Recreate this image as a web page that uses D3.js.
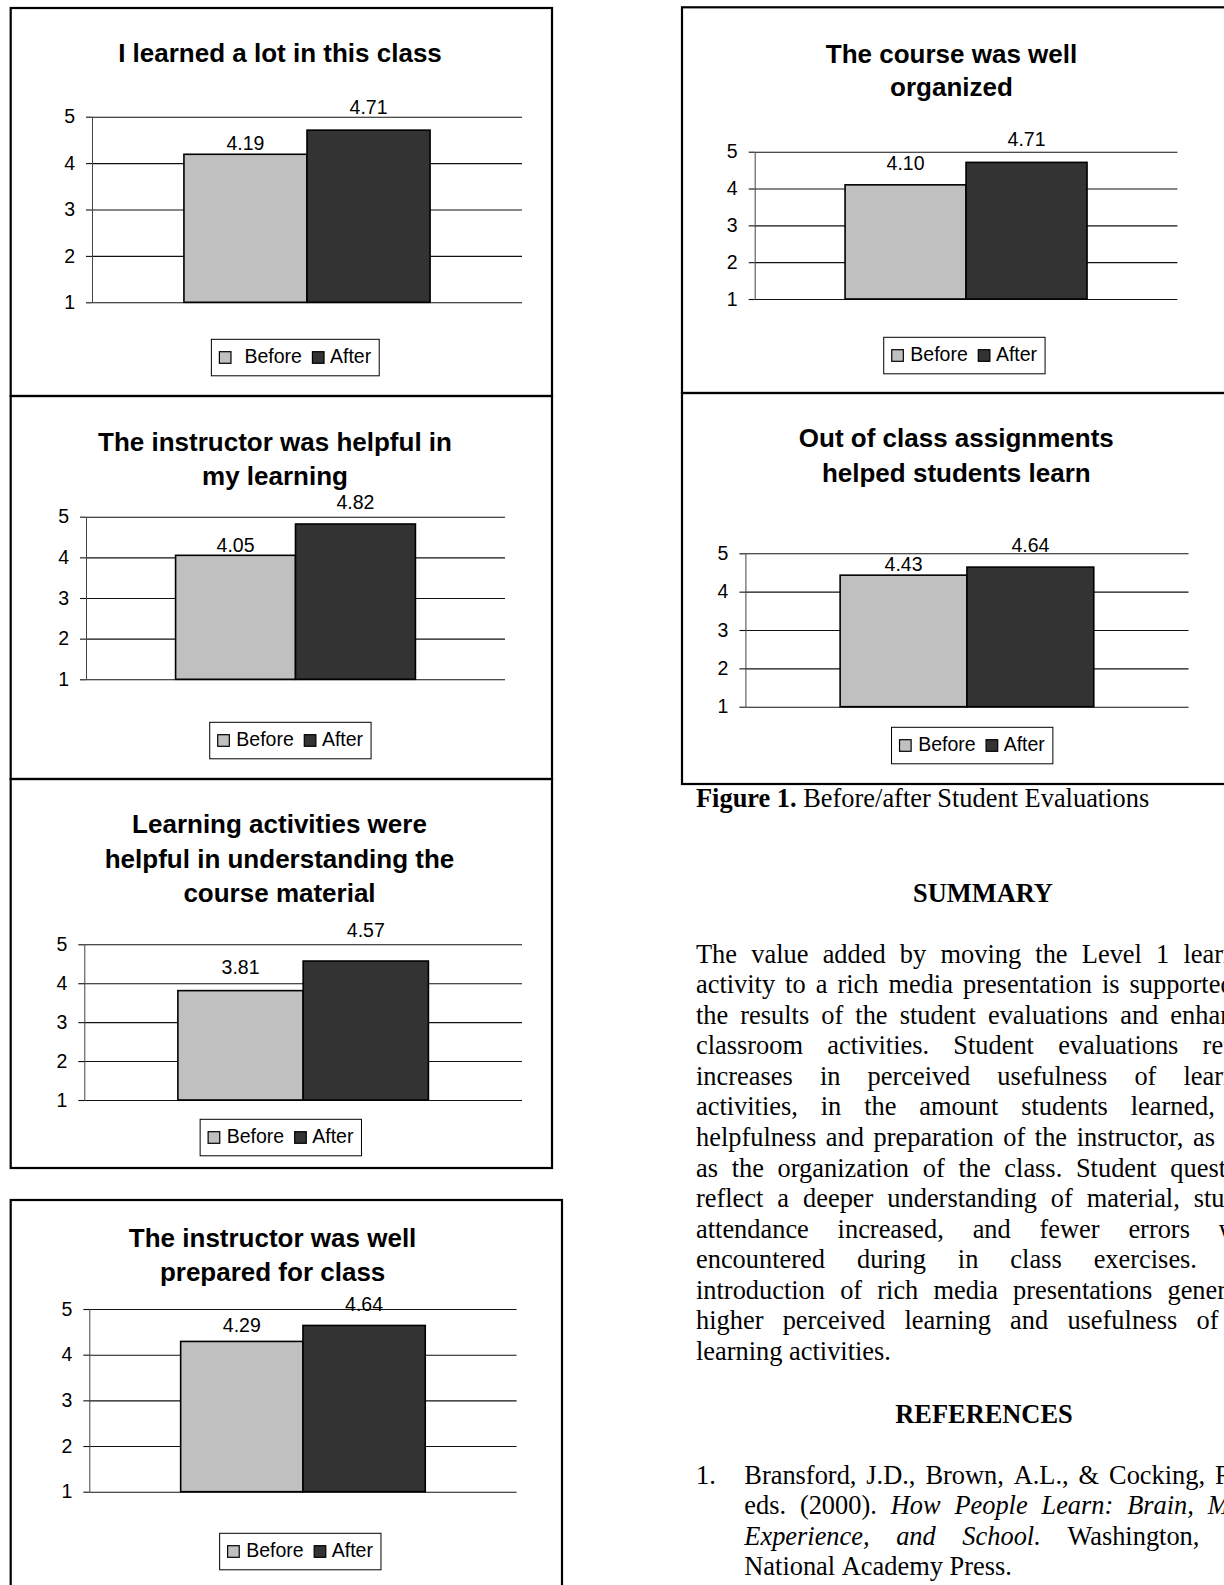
<!DOCTYPE html>
<html>
<head>
<meta charset="utf-8">
<script src="https://cdn.jsdelivr.net/npm/d3@7"></script>
<style>
  html, body { margin: 0; padding: 0; background: #fff; }
  svg { display: block; }
</style>
</head>
<body>
<svg id="page" width="1224" height="1585"></svg>
<script>
// ---- Data: mean evaluation ratings (1–5) before and after the rich media change ----
const series = ["Before", "After"];
const titleLines = [
  ["I learned a lot in this class"],
  ["The instructor was helpful in", "my learning"],
  ["Learning activities were", "helpful in understanding the", "course material"],
  ["The instructor was well", "prepared for class"],
  ["The course was well", "organized"],
  ["Out of class assignments", "helped students learn"]
];
const beforeValues = [4.19, 4.05, 3.81, 4.29, 4.10, 4.43];
const afterValues  = [4.71, 4.82, 4.57, 4.64, 4.71, 4.64];
const ratingTicks  = [1, 2, 3, 4, 5];
const ratingDomain = [1, 5];

// ---- Text blocks ----
const captionBold = "Figure 1.";
const captionText = " Before/after Student Evaluations";
const summaryHeading = "SUMMARY";
const summaryLines = [
  "The value added by moving the Level 1 learning",
  "activity to a rich media presentation is supported by",
  "the results of the student evaluations and enhanced",
  "classroom activities. Student evaluations reflect",
  "increases in perceived usefulness of learning",
  "activities, in the amount students learned, the",
  "helpfulness and preparation of the instructor, as well",
  "as the organization of the class. Student questions",
  "reflect a deeper understanding of material, student",
  "attendance increased, and fewer errors were",
  "encountered during in class exercises. The",
  "introduction of rich media presentations generated",
  "higher perceived learning and usefulness of the",
  "learning activities."
];
const referencesHeading = "REFERENCES";
const referenceNumber = "1.";
const referenceLines = [
  [["Bransford, J.D., Brown, A.L., & Cocking, R.R.,", false]],
  [["eds. (2000).", false], ["How People Learn: Brain, Mind,", true]],
  [["Experience, and School.", true], ["Washington, DC:", false]],
  [["National Academy Press.", false]]
];

// ---- Layout of the six chart frames (page pixels) ----
const panelLayout = [
  { box: [10.7, 8, 552, 396],    titleX: 280,   titleY: [61.7],               plot: [92, 522, 116.7, 302.3],    lift: [4, 16],  legend: [295.3, 339.3, 13.5] },
  { box: [10.7, 396, 552, 779],  titleX: 275,   titleY: [451, 485],           plot: [86, 505, 516.7, 679.3],    lift: [3, 15],  legend: [290.4, 722.3, 7] },
  { box: [10.7, 779, 552, 1168], titleX: 279.5, titleY: [833.3, 868.3, 902.3], plot: [84.3, 522, 944.3, 1100],   lift: [17, 24], legend: [280.8, 1119.3, 7] },
  { box: [10.7, 1200, 562, 1620],titleX: 272.6, titleY: [1246.7, 1281],       plot: [89.3, 516.6, 1309, 1491.7], lift: [9, 14],  legend: [300.3, 1533.3, 7] },
  { box: [682, 7.3, 1250, 393],  titleX: 951.5, titleY: [62.7, 96],           plot: [754.7, 1177.4, 151.7, 299], lift: [15, 16], legend: [964.4, 337.3, 7] },
  { box: [682, 393, 1250, 784],  titleX: 956.3, titleY: [446.7, 482.3],       plot: [745.4, 1188.5, 553.3, 706.7], lift: [4, 15], legend: [972.2, 727.3, 7] }
];

const SANS = "'Liberation Sans', Arial, Helvetica, sans-serif";
const SERIF = "'Liberation Serif', 'Times New Roman', Times, serif";
const colors = { Before: "#c0c0c0", After: "#333333" };
const fmt = d3.format(".2f");

const svg = d3.select("#page");
svg.append("rect").attr("width", 1224).attr("height", 1585).attr("fill", "#fff");

// Hidden text node used for measuring word widths
const probe = svg.append("text").attr("x", -9999).attr("y", -9999);
function textWidth(str, family, size, weight, style) {
  probe.attr("font-family", family).attr("font-size", size)
       .attr("font-weight", weight || "normal").attr("font-style", style || "normal")
       .text(str);
  return probe.node().getComputedTextLength();
}

// ---- Charts ----
panelLayout.forEach((p, i) => {
  const g = svg.append("g").attr("class", "panel");
  const [bx0, by0, bx1, by1] = p.box;
  g.append("rect")
    .attr("x", bx0).attr("y", by0).attr("width", bx1 - bx0).attr("height", by1 - by0)
    .attr("fill", "none").attr("stroke", "#000").attr("stroke-width", 2.2);

  // Title
  g.append("g").selectAll("text").data(titleLines[i]).join("text")
    .attr("x", p.titleX).attr("y", (d, k) => p.titleY[k])
    .attr("text-anchor", "middle")
    .attr("font-family", SANS).attr("font-size", 26).attr("font-weight", "bold")
    .attr("fill", "#000").text(d => d);

  const [x0, x1, yTop, yBot] = p.plot;
  const y = d3.scaleLinear().domain(ratingDomain).range([yBot, yTop]);
  const x = d3.scaleBand().domain(series).range([x0, x1]).paddingInner(0).paddingOuter(0.747);

  // Horizontal gridlines
  const grid = g.append("g").attr("transform", `translate(${x0},0)`)
    .call(d3.axisLeft(y).tickValues(ratingTicks).tickSize(-(x1 - x0)).tickFormat(""));
  grid.select(".domain").remove();
  grid.selectAll("line").attr("stroke", "#111").attr("stroke-width", 1.1);

  // Value axis
  const axis = g.append("g").attr("transform", `translate(${x0},0)`)
    .call(d3.axisLeft(y).tickValues(ratingTicks).tickSize(6).tickSizeOuter(0).tickPadding(11).tickFormat(d3.format("d")));
  axis.attr("font-family", SANS).attr("font-size", 19.5);
  axis.select(".domain").attr("stroke", "#444").attr("stroke-width", 1);
  axis.selectAll(".tick line").attr("stroke", "#111").attr("stroke-width", 1.1);
  axis.selectAll(".tick text").attr("fill", "#000");

  // Bars
  const vals = [beforeValues[i], afterValues[i]];
  const rows = series.map((s, k) => ({ s, v: vals[k], lift: p.lift[k] }));
  g.append("g").selectAll("rect").data(rows).join("rect")
    .attr("x", d => x(d.s)).attr("y", d => y(d.v))
    .attr("width", x.bandwidth()).attr("height", d => y(ratingDomain[0]) - y(d.v))
    .attr("fill", d => colors[d.s]).attr("stroke", "#000").attr("stroke-width", 1.6);

  // Value labels
  g.append("g").selectAll("text").data(rows).join("text")
    .attr("x", d => x(d.s) + x.bandwidth() / 2)
    .attr("y", d => y(d.v) - d.lift)
    .attr("text-anchor", "middle")
    .attr("font-family", SANS).attr("font-size", 19.5).attr("fill", "#000")
    .text(d => fmt(d.v));

  // Legend
  const [lcx, ltop, firstGap] = p.legend;
  const fs = 19.5, sw = 11.6;
  const wB = textWidth(series[0], SANS, fs), wA = textWidth(series[1], SANS, fs);
  const contentW = sw + firstGap + wB + 10.5 + sw + 6 + wA;
  const lw = contentW + 16, lh = 36.5;
  const lx = lcx - lw / 2;
  const lg = g.append("g");
  lg.append("rect").attr("x", lx).attr("y", ltop).attr("width", lw).attr("height", lh)
    .attr("fill", "#fff").attr("stroke", "#000").attr("stroke-width", 1);
  const entries = [
    { s: series[0], sx: lx + 8, tx: lx + 8 + sw + firstGap },
    { s: series[1], sx: lx + 8 + sw + firstGap + wB + 10.5, tx: lx + 8 + sw + firstGap + wB + 10.5 + sw + 6 }
  ];
  lg.selectAll("rect.sw").data(entries).join("rect").attr("class", "sw")
    .attr("x", d => d.sx).attr("y", ltop + 24 - sw).attr("width", sw).attr("height", sw)
    .attr("fill", d => colors[d.s]).attr("stroke", "#000").attr("stroke-width", 1.2);
  lg.selectAll("text").data(entries).join("text")
    .attr("x", d => d.tx).attr("y", ltop + 24)
    .attr("font-family", SANS).attr("font-size", fs).attr("fill", "#000")
    .text(d => d.s);
});

// ---- Caption and text column ----
const BODY = 26.4;
const colLeft = 696, colRight = 1270;

const cap = svg.append("text").attr("x", colLeft).attr("y", 807.3)
  .attr("font-family", SERIF).attr("font-size", BODY).attr("fill", "#000")
  .style("white-space", "pre");
cap.append("tspan").attr("font-weight", "bold").text(captionBold);
cap.append("tspan").text(captionText);

svg.append("text").attr("x", 983).attr("y", 901.7).attr("text-anchor", "middle")
  .attr("font-family", SERIF).attr("font-size", BODY).attr("font-weight", "bold")
  .text(summaryHeading);

svg.append("text").attr("x", 984).attr("y", 1422.7).attr("text-anchor", "middle")
  .attr("font-family", SERIF).attr("font-size", BODY).attr("font-weight", "bold")
  .text(referencesHeading);

// Justified line setter: each line is a list of [text, italic] segments
function setLines(lines, left, right, baseline, step) {
  const g = svg.append("g").attr("font-family", SERIF).attr("font-size", BODY).attr("fill", "#000");
  lines.forEach((segs, li) => {
    const words = [];
    segs.forEach(([t, it]) => t.split(" ").filter(w => w.length).forEach(w => words.push({ w, it })));
    words.forEach(d => d.len = textWidth(d.w, SERIF, BODY, "normal", d.it ? "italic" : "normal"));
    const total = d3.sum(words, d => d.len);
    const last = li === lines.length - 1;
    const gap = (last || words.length < 2) ? BODY * 0.25 : (right - left - total) / (words.length - 1);
    let cx = left;
    words.forEach(d => { d.x = cx; cx += d.len + gap; });
    g.append("g").selectAll("text").data(words).join("text")
      .attr("x", d => d.x).attr("y", baseline + li * step)
      .attr("font-style", d => d.it ? "italic" : "normal")
      .text(d => d.w);
  });
}

setLines(summaryLines.map(s => [[s, false]]), colLeft, colRight, 962.7, 30.55);

svg.append("text").attr("x", colLeft).attr("y", 1484)
  .attr("font-family", SERIF).attr("font-size", BODY).text(referenceNumber);
setLines(referenceLines, 744.3, colRight, 1484, 30.4);

probe.remove();
</script>
</body>
</html>
